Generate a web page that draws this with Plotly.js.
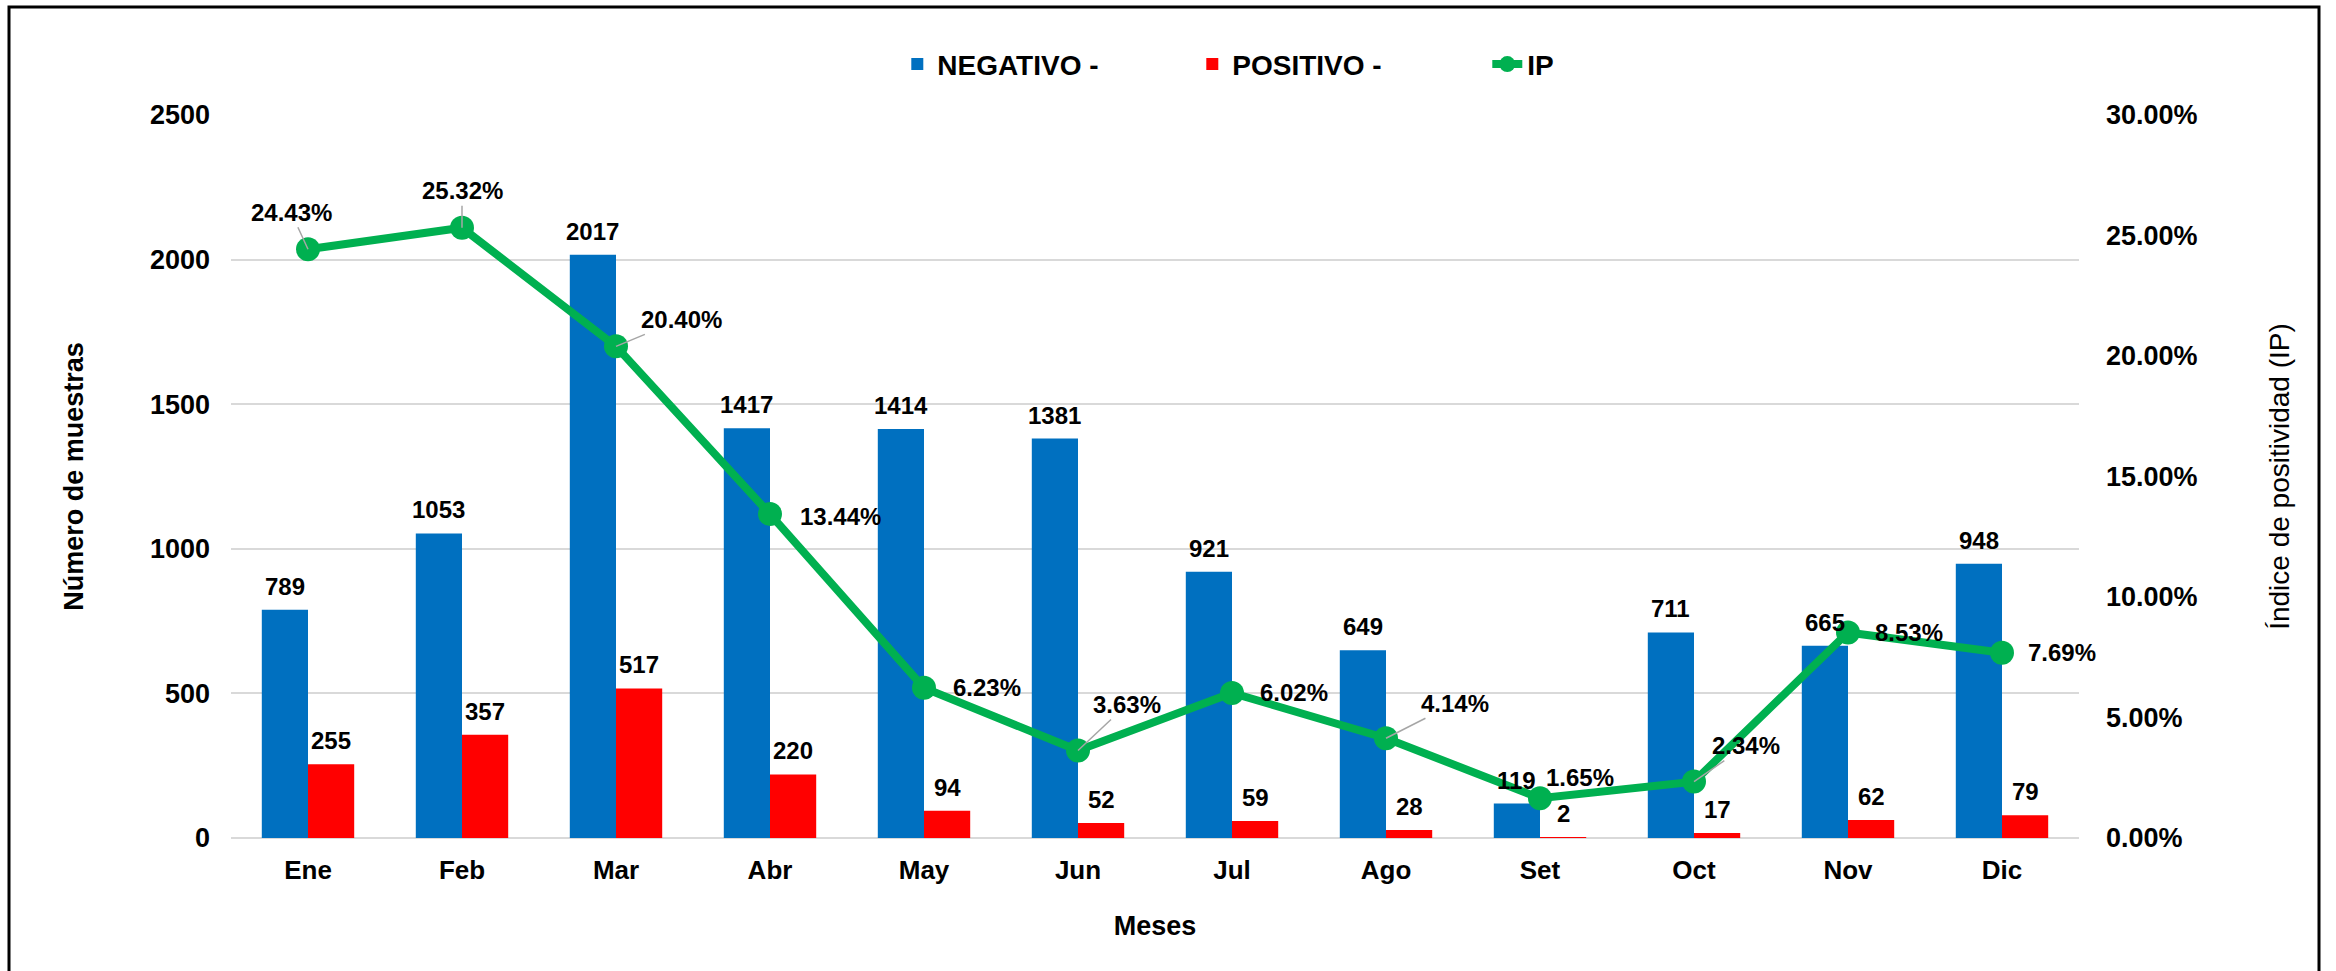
<!DOCTYPE html>
<html>
<head>
<meta charset="utf-8">
<script src="https://cdn.plot.ly/plotly-3.0.1.min.js"></script>
<style>
  html, body { margin: 0; padding: 0; background: #fff; }
  #chart { width: 2336px; height: 971px; }
</style>
</head>
<body>
<div id="chart"></div>
<script>
// ---- data ----
const meses = ["Ene", "Feb", "Mar", "Abr", "May", "Jun", "Jul", "Ago", "Set", "Oct", "Nov", "Dic"];
const negativo = [789, 1053, 2017, 1417, 1414, 1381, 921, 649, 119, 711, 665, 948];
const positivo = [255, 357, 517, 220, 94, 52, 59, 28, 2, 17, 62, 79];
const ip = [0.2443, 0.2532, 0.2040, 0.1344, 0.0623, 0.0363, 0.0602, 0.0414, 0.0165, 0.0234, 0.0853, 0.0769];

// ---- label placement (pixel offsets of the IP labels from their points) ----
const ipLabelDx = [-17, 0, 65, 70, 63, 49, 62, 69, 40, 52, 61, 60];
const ipLabelDy = [-37, -37, -27, 2, 0, -46, 0, -35, -21, -36, 0, 0];
const ipLeader  = [true, true, true, false, false, true, false, true, false, true, false, false];

const FONT = '"Liberation Sans", Arial, sans-serif';
const BLUE = '#0070C0', RED = '#FF0000', GREEN = '#00B050';

const W = 2336, H = 971;
const M = { l: 231, r: 257, t: 115, b: 133 };
const BARGAP = 0.4;
const catW = (W - M.l - M.r) / meses.length;
const barShift = catW * (1 - BARGAP) / 4;   // half of one bar's width

const traces = [
  {
    type: 'bar', name: 'NEGATIVO -', x: meses, y: negativo,
    marker: { color: BLUE }, hoverinfo: 'x+y'
  },
  {
    type: 'bar', name: 'POSITIVO -', x: meses, y: positivo,
    marker: { color: RED }, hoverinfo: 'x+y'
  },
  {
    type: 'scatter', mode: 'lines+markers', name: 'IP', x: meses, y: ip, yaxis: 'y2',
    line: { color: GREEN, width: 8 },
    marker: { color: GREEN, size: 24 },
    cliponaxis: false
  }
];

const labelFont = { family: FONT, size: 24, color: '#000', weight: 'bold' };

const barLabels = [];
meses.forEach((m, i) => {
  barLabels.push({
    x: m, y: negativo[i], xref: 'x', yref: 'y', text: String(negativo[i]),
    showarrow: false, yanchor: 'bottom', xshift: -barShift, yshift: 8, font: labelFont
  });
  barLabels.push({
    x: m, y: positivo[i], xref: 'x', yref: 'y', text: String(positivo[i]),
    showarrow: false, yanchor: 'bottom', xshift: barShift, yshift: 8, font: labelFont
  });
});

const ipLabels = meses.map((m, i) => ({
  x: m, y: ip[i], xref: 'x', yref: 'y2',
  text: (ip[i] * 100).toFixed(2) + '%',
  showarrow: true, arrowhead: 0, arrowwidth: 1.5,
  arrowcolor: ipLeader[i] ? '#A6A6A6' : 'rgba(0,0,0,0)',
  ax: ipLabelDx[i], ay: ipLabelDy[i],
  font: labelFont
}));

const layout = {
  width: W, height: H,
  paper_bgcolor: '#fff', plot_bgcolor: '#fff',
  margin: M,
  font: { family: FONT, color: '#000' },
  barmode: 'group', bargap: BARGAP, bargroupgap: 0,
  showlegend: true,
  legend: {
    orientation: 'h', x: 0.60, xanchor: 'center', y: 1.07, yanchor: 'middle',
    font: { family: FONT, size: 28, color: '#000', weight: 'bold' },
    entrywidth: 250, entrywidthmode: 'pixels', traceorder: 'normal'
  },
  xaxis: {
    type: 'category', range: [-0.5, meses.length - 0.5],
    showgrid: false, zeroline: false, showline: false,
    ticks: '', ticklabelstandoff: 14,
    tickfont: { family: FONT, size: 26, color: '#000', weight: 'bold' },
    title: { text: 'Meses', standoff: 32, font: { family: FONT, size: 27, color: '#000', weight: 'bold' } }
  },
  yaxis: {
    range: [0, 2500], dtick: 500, tick0: 0,
    showgrid: true, gridcolor: '#D9D9D9', gridwidth: 2,
    zeroline: true, zerolinecolor: '#D9D9D9', zerolinewidth: 2,
    showline: false, ticks: '', ticklabelstandoff: 20,
    tickfont: { family: FONT, size: 27, color: '#000', weight: 'bold' },
    title: { text: 'Número de muestras', standoff: 58, font: { family: FONT, size: 27, color: '#000', weight: 'bold' } }
  },
  yaxis2: {
    overlaying: 'y', side: 'right', range: [0, 0.30], dtick: 0.05, tick0: 0,
    tickformat: '.2%', showgrid: false, zeroline: false, showline: false,
    ticks: '', ticklabelstandoff: 26,
    tickfont: { family: FONT, size: 27, color: '#000', weight: 'bold' },
    title: { text: 'Índice de positividad (IP)', standoff: 72, font: { family: FONT, size: 28, color: '#000' } }
  },
  annotations: barLabels.concat(ipLabels),
  shapes: [{
    type: 'rect', xref: 'paper', yref: 'paper',
    x0: (9 - M.l) / (W - M.l - M.r), x1: (2319 - M.l) / (W - M.l - M.r),
    y0: -0.2, y1: (H - M.b - 7) / (H - M.t - M.b),
    line: { color: '#000', width: 3 }, fillcolor: 'rgba(0,0,0,0)', layer: 'above'
  }]
};

Plotly.newPlot('chart', traces, layout, { displayModeBar: false, responsive: false });
</script>
</body>
</html>
